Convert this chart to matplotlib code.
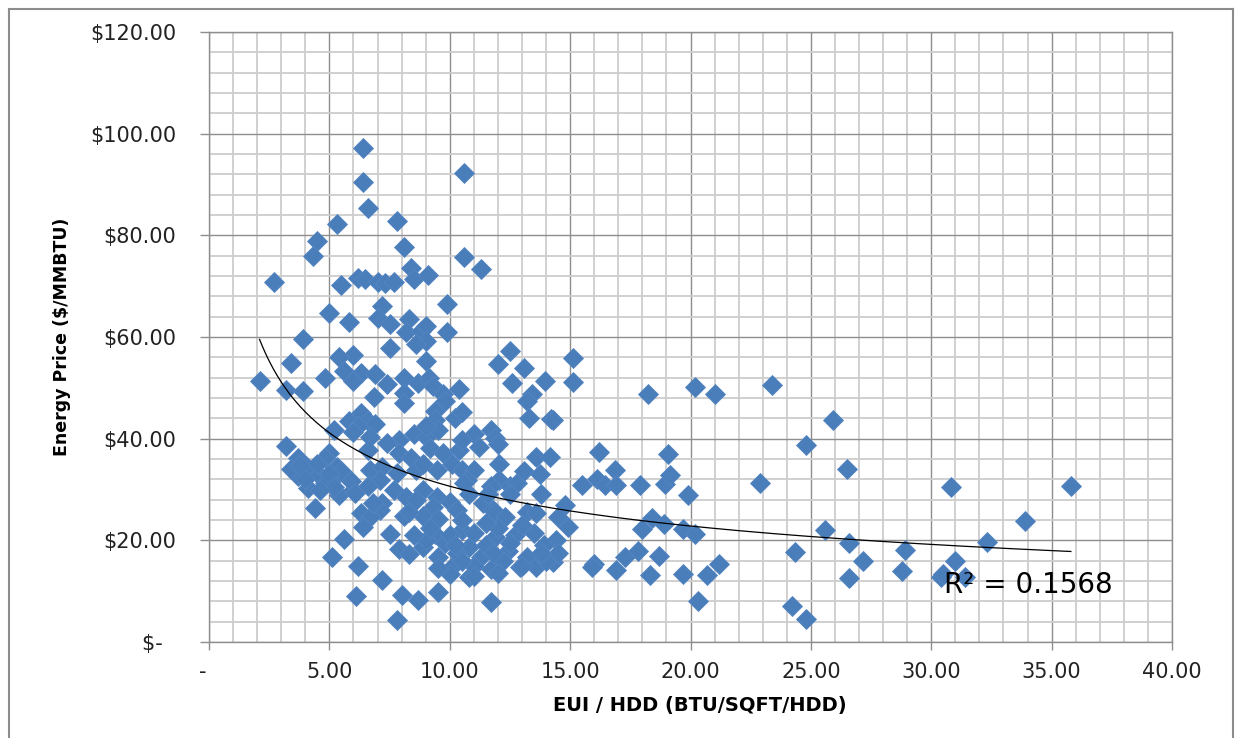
import numpy as np
import matplotlib
matplotlib.use("Agg")
import matplotlib.pyplot as plt
from matplotlib.ticker import MultipleLocator, FuncFormatter
from matplotlib.lines import Line2D

# EUI / HDD (BTU/SQFT/HDD) per building
eui_hdd = [
    # upper points
    6.4, 6.4, 10.6, 6.6, 7.8, 5.3, 4.5, 4.3, 8.1, 10.6, 11.3, 8.4, 2.7, 6.2, 6.5, 7.0, 7.3, 7.7, 8.5, 9.1, 5.5,
    9.9, 7.2, 5.0, 5.8, 7.0, 7.5, 8.3, 8.2, 8.8, 9.0, 9.0, 8.6, 9.9, 3.9, 7.5, 6.0, 5.4, 9.0, 3.4, 5.6,
    6.3, 6.9, 6.0, 7.4, 8.1, 8.7, 9.15, 9.3, 2.1, 4.8, 3.2, 3.9, 6.85, 8.1, 8.1, 9.7, 10.4, 9.8,
    12.5, 12.0, 13.1, 12.6, 13.95, 13.4, 13.2, 13.3, 14.2, 15.1, 15.1, 18.25, 20.2, 21.0, 23.4, 25.9, 24.8,
    # 35 - 46
    6.3, 9.4, 10.2, 9.4, 5.8, 6.6, 6.9, 10.5, 5.2, 6.2, 6.0, 6.7, 7.9, 8.5, 9.0, 9.5, 11.0, 11.7, 11.9, 9.0,
    6.6, 7.4, 7.9, 8.4, 9.2, 9.7, 10.4, 10.5, 11.2, 5.0, 12.0,
    # core 24 - 35
    5.3, 5.1, 5.75, 6.7, 7.2, 7.1, 7.8, 8.6, 8.9, 9.45, 10.1, 10.5, 11.0, 10.7, 12.05, 12.05, 11.7,
    6.0, 6.6, 7.7, 8.2, 7.2, 8.9, 9.45, 10.0, 9.3, 10.8, 10.3, 11.4, 11.8, 6.3, 7.1, 8.1, 8.9, 9.5,
    3.2, 3.7, 4.1, 4.8, 4.55, 3.7, 4.1, 4.8, 5.5, 5.4, 5.9, 6.05, 4.4, 3.4, 4.5, 5.0, 4.0, 5.2, 3.8, 4.6,
    12.5, 12.8, 13.1, 13.75, 13.6, 14.15, 16.2, 16.85, 15.5, 16.1, 16.45, 16.9, 17.9, 18.95, 19.15, 19.9,
    19.07, 22.9, 26.5, 30.8, 35.8, 14.3, 12.5, 13.8, 11.6, 10.6, 14.8,
    # lower right
    14.9, 14.4, 14.3, 18.4, 18.0, 18.9, 19.7, 20.2, 17.8, 17.3, 16.9, 16.0, 15.9, 18.7, 18.3, 19.7, 20.3,
    20.7, 33.9, 25.6, 26.6, 32.3, 24.35, 28.9, 27.15, 21.2, 31.0, 26.6, 28.8, 30.4, 31.4, 30.5, 24.2, 24.8,
    # lower core
    5.6, 5.1, 6.2, 7.2, 6.1, 8.0, 8.7, 9.5, 7.8, 11.7, 7.5, 6.7, 6.8, 6.4, 8.3, 8.6, 9.4, 7.9, 8.3, 8.9,
    9.5, 10.1, 10.0, 10.5, 10.8, 10.8, 11.3, 11.7, 11.9, 12.4, 12.9, 13.2, 13.6, 13.9, 14.0, 13.2, 13.6,
    11.9, 12.3,
    9.0, 9.8, 10.3, 10.0, 11.0, 11.5, 12.0, 12.7, 13.0, 13.5, 14.5, 13.8, 12.2, 11.0, 10.5, 9.2, 8.5,
    11.5, 12.5, 10.5, 14.5, 11.0, 12.0, 13.0, 9.5, 10.2, 11.8,
]

# Energy price ($/MMBTU), same order
price = [
    97.2, 90.4, 92.2, 85.3, 82.8, 82.2, 78.9, 76.0, 77.8, 75.7, 73.3, 73.5, 70.9, 71.7, 71.4, 70.9, 70.6, 70.9, 71.4, 72.1, 70.3,
    66.4, 66.1, 64.7, 62.9, 63.8, 62.5, 63.5, 60.9, 61.2, 62.2, 59.2, 58.6, 60.9, 59.6, 57.9, 56.4, 56.0, 55.3, 54.9, 53.4,
    53.0, 52.7, 51.3, 50.7, 52.0, 51.0, 52.0, 50.4, 51.3, 51.9, 49.6, 49.4, 48.1, 49.0, 47.1, 48.7, 49.7, 47.4,
    57.2, 54.6, 54.0, 51.0, 51.3, 48.7, 47.4, 44.1, 43.8, 55.8, 51.1, 48.8, 50.1, 48.8, 50.6, 43.7, 38.8,
    45.1, 45.4, 44.1, 43.6, 43.5, 43.5, 42.8, 45.2, 41.7, 42.4, 41.4, 40.4, 39.7, 41.0, 40.4, 41.7, 41.0, 41.7, 40.1, 42.4,
    37.8, 39.1, 37.1, 36.1, 38.1, 37.1, 37.8, 39.7, 38.4, 37.1, 38.9,
    34.5, 31.9, 32.5, 33.8, 34.5, 31.9, 33.2, 33.8, 35.1, 33.8, 35.1, 33.8, 33.8, 31.9, 35.1, 31.9, 30.6,
    29.9, 30.6, 29.9, 28.6, 27.3, 29.9, 28.6, 27.6, 26.6, 29.2, 26.0, 27.3, 26.0, 25.3, 26.0, 24.7, 24.7, 24.2,
    38.5, 36.2, 34.3, 36.2, 32.9, 32.6, 30.3, 31.3, 33.6, 29.0, 31.6, 29.3, 26.3, 34.0, 35.0, 33.0, 32.0, 30.5, 34.8, 30.0,
    30.7, 31.3, 33.6, 33.0, 36.3, 36.3, 37.4, 33.8, 30.8, 32.1, 30.8, 30.8, 30.8, 31.0, 32.8, 28.9,
    37.0, 31.2, 34.1, 30.4, 30.7, 43.6, 29.2, 29.2, 29.2, 31.2, 26.9,
    22.6, 20.0, 15.7, 24.3, 22.3, 23.3, 22.3, 21.3, 17.9, 16.7, 14.1, 15.4, 14.8, 17.0, 13.1, 13.4, 8.1,
    13.1, 23.9, 22.1, 19.4, 19.7, 17.7, 18.1, 16.0, 15.4, 15.9, 12.6, 14.0, 12.8, 12.8, 13.4, 7.0, 4.5,
    20.3, 16.8, 15.0, 12.2, 9.1, 9.2, 8.3, 9.9, 4.3, 7.8, 21.3, 24.6, 27.3, 22.6, 25.6, 27.9, 21.3, 18.3, 17.4, 18.7,
    16.7, 14.7, 13.4, 22.0, 18.7, 12.7, 16.7, 14.4, 20.7, 18.0, 14.7, 16.7, 14.7, 19.0, 16.0, 25.6, 25.3,
    25.6, 24.6,
    20.0, 19.5, 17.5, 21.0, 21.5, 19.0, 22.5, 21.0, 23.0, 21.5, 17.5, 17.5, 16.0, 15.0, 16.0, 22.5, 21.0,
    23.5, 19.5, 24.0, 24.5, 13.0, 13.5, 15.0, 14.5, 19.0, 17.5,
]

r2_text = "R² = 0.1568"
x_label = "EUI / HDD (BTU/SQFT/HDD)"
y_label = "Energy Price ($/MMBTU)"

x = np.array(eui_hdd)
y = np.array(price)

W, H = 1246, 738
fig = plt.figure(figsize=(W / 100, H / 100), dpi=100)
ax = fig.add_axes([209 / W, 1 - 642 / H, (1172 - 209) / W, (642 - 32) / H])

# points
ax.plot(x, y, linestyle="none", marker="D", ms=10, color="#4a7ebb",
        mec="#5585c2", mew=0.6, zorder=3)

# power trendline fitted on the points (log-log least squares)
coef = np.polyfit(np.log(x), np.log(y), 1)
xt = np.linspace(x.min(), x.max(), 300)
ax.plot(xt, np.exp(coef[1]) * xt ** coef[0], color="black", lw=0.9, zorder=4)

ax.text(30.55, 11.3, r2_text, fontsize=20, va="center", ha="left", zorder=5)

ax.set_xlim(0, 40)
ax.set_ylim(0, 120)
ax.xaxis.set_major_locator(MultipleLocator(5))
ax.xaxis.set_minor_locator(MultipleLocator(1))
ax.yaxis.set_major_locator(MultipleLocator(20))
ax.yaxis.set_minor_locator(MultipleLocator(4))

ax.xaxis.set_major_formatter(FuncFormatter(lambda v, p: "-  " if v == 0 else f"{v:.2f}"))
ax.yaxis.set_major_formatter(FuncFormatter(lambda v, p: "$-  " if v == 0 else f"${v:.2f}"))

ax.set_axisbelow(True)
ax.grid(which="minor", color="#cdcdcd", lw=1.3)
ax.grid(which="major", color="#8e8e8e", lw=1.0)

for s in ax.spines.values():
    s.set_color("#8e8e8e")
    s.set_linewidth(1.0)

ax.tick_params(which="minor", length=0)
ax.tick_params(axis="y", which="major", direction="out", length=6.5, width=1,
               color="#8e8e8e", labelsize=15, pad=17, labelcolor="#222222")
ax.tick_params(axis="x", which="major", direction="out", length=5.5, width=1,
               color="#8e8e8e", labelsize=15, pad=9, labelcolor="#222222")

fig.text(700 / W, 1 - 705 / H, x_label, ha="center", va="center",
         fontsize=14, fontweight="bold")
fig.text(62 / W, 1 - 337 / H, y_label, ha="center", va="center",
         rotation=90, fontsize=12.5, fontweight="bold")

# outer chart border
border = dict(transform=fig.transFigure, color="#8c8c8c", lw=1.5)
fig.add_artist(Line2D([9 / W, 9 / W], [0, 1 - 9 / H], **border))
fig.add_artist(Line2D([9 / W, 1233 / W], [1 - 9 / H, 1 - 9 / H], **border))
fig.add_artist(Line2D([1233 / W, 1233 / W], [0, 1 - 9 / H], **border))

fig.savefig("out.png", dpi=100)
